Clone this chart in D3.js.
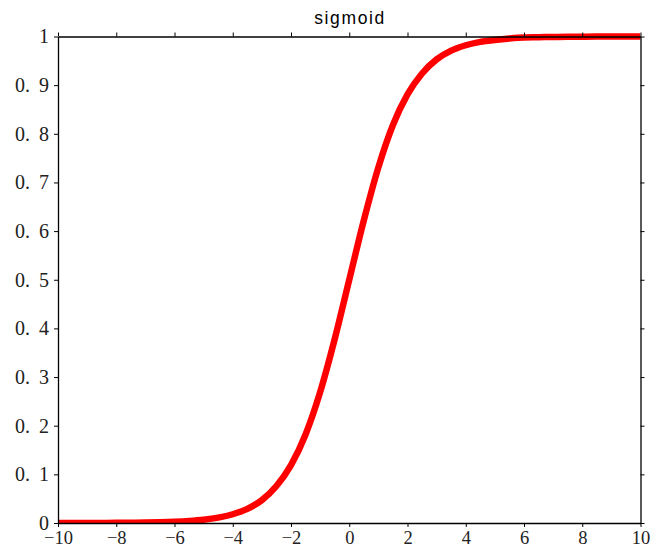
<!DOCTYPE html>
<html>
<head>
<meta charset="utf-8">
<script src="https://cdn.jsdelivr.net/npm/d3@7"></script>
<style>
  body { margin: 0; background: #fff; }
  svg { display: block; }
</style>
</head>
<body>
<svg width="656" height="548"></svg>
<script>
// values, x step 0.5
var xs = [-10, -9.5, -9, -8.5, -8, -7.5, -7, -6.5, -6, -5.5, -5, -4.5, -4, -3.5, -3, -2.5, -2, -1.5, -1, -0.5,
          0, 0.5, 1, 1.5, 2, 2.5, 3, 3.5, 4, 4.5, 5, 5.5, 6, 6.5, 7, 7.5, 8, 8.5, 9, 9.5, 10];
var ys = [0.0000, 0.0001, 0.0001, 0.0002, 0.0003, 0.0006, 0.0009, 0.0015, 0.0025, 0.0041, 0.0067, 0.011, 0.018, 0.029, 0.047, 0.076, 0.119, 0.182, 0.269, 0.378,
          0.500, 0.622, 0.731, 0.818, 0.881, 0.924, 0.953, 0.971, 0.982, 0.989, 0.993, 0.996, 0.998, 0.9985, 0.9991, 0.9994, 0.9997, 0.9998, 0.9999, 0.9999, 1.0000];
var xTicks = [-10, -8, -6, -4, -2, 0, 2, 4, 6, 8, 10];
var yTicks = [0, 0.1, 0.2, 0.3, 0.4, 0.5, 0.6, 0.7, 0.8, 0.9, 1];
var title = "sigmoid";

var svg = d3.select("svg");
var plotL = 58, plotR = 640.5, plotT = 36.5, plotB = 523;

var x = d3.scaleLinear().domain([-10, 10]).range([plotL, plotR]);
var y = d3.scaleLinear().domain([0, 1]).range([plotB, plotT]);

var labelFont = "'Liberation Serif', 'DejaVu Serif', serif";

svg.append("defs").append("clipPath").attr("id", "plot")
  .append("rect").attr("x", plotL).attr("y", plotT - 4)
  .attr("width", plotR - plotL).attr("height", plotB - plotT + 4);

var line = d3.line()
  .x(function(d, i) { return x(xs[i]); })
  .y(function(d) { return y(d); })
  .curve(d3.curveMonotoneX);

svg.append("path")
  .datum(ys)
  .attr("d", line)
  .attr("fill", "none")
  .attr("stroke", "#ff0000")
  .attr("stroke-width", 6.5)
  .attr("clip-path", "url(#plot)");

function fmtMinus(d) {
  return d < 0 ? "\u2212" + Math.abs(d) : String(d);
}

// frame + ticks
var gB = svg.append("g").attr("transform", "translate(0," + plotB + ")")
  .call(d3.axisBottom(x).tickValues(xTicks).tickSize(4).tickSizeOuter(0).tickPadding(7).tickFormat(fmtMinus));
var gT = svg.append("g").attr("transform", "translate(0," + plotT + ")")
  .call(d3.axisTop(x).tickValues(xTicks).tickSize(4).tickSizeOuter(0).tickFormat(""));
var gL = svg.append("g").attr("transform", "translate(" + plotL + ",0)")
  .call(d3.axisLeft(y).tickValues(yTicks).tickSize(4).tickSizeOuter(0).tickPadding(5).tickFormat(function(d) { return d3.format("~g")(d); }));
var gR = svg.append("g").attr("transform", "translate(" + plotR + ",0)")
  .call(d3.axisRight(y).tickValues(yTicks).tickSize(4).tickSizeOuter(0).tickFormat(""));

[gB, gT, gL, gR].forEach(function(g) {
  g.select(".domain").attr("stroke", "#000").attr("stroke-width", 1.3);
  g.selectAll(".tick line").attr("stroke", "#000").attr("stroke-width", 1);
  g.selectAll(".tick text")
    .attr("fill", "#222")
    .style("font-family", labelFont)
    .style("font-size", "20px");
});
// the reference clips these at the bottom edge; keep them just inside
gB.selectAll(".tick text").style("font-size", "18.5px").attr("dy", "10px");

// wide period in decimal labels, like the reference
gL.selectAll(".tick text").each(function(d) {
  var s = d3.format("~g")(d);
  var t = d3.select(this);
  if (s.indexOf(".") >= 0) {
    var parts = s.split(".");
    t.text(null);
    t.append("tspan").text(parts[0] + ".");
    t.append("tspan").attr("dx", 9).text(parts[1]);
  }
});

svg.append("text")
  .attr("x", (plotL + plotR) / 2)
  .attr("y", 24)
  .attr("text-anchor", "middle")
  .attr("textLength", 70)
  .attr("lengthAdjust", "spacing")
  .style("font-family", "'Liberation Sans', Arial, sans-serif")
  .style("font-size", "17.5px")
  .attr("fill", "#000")
  .text(title);
</script>
</body>
</html>
